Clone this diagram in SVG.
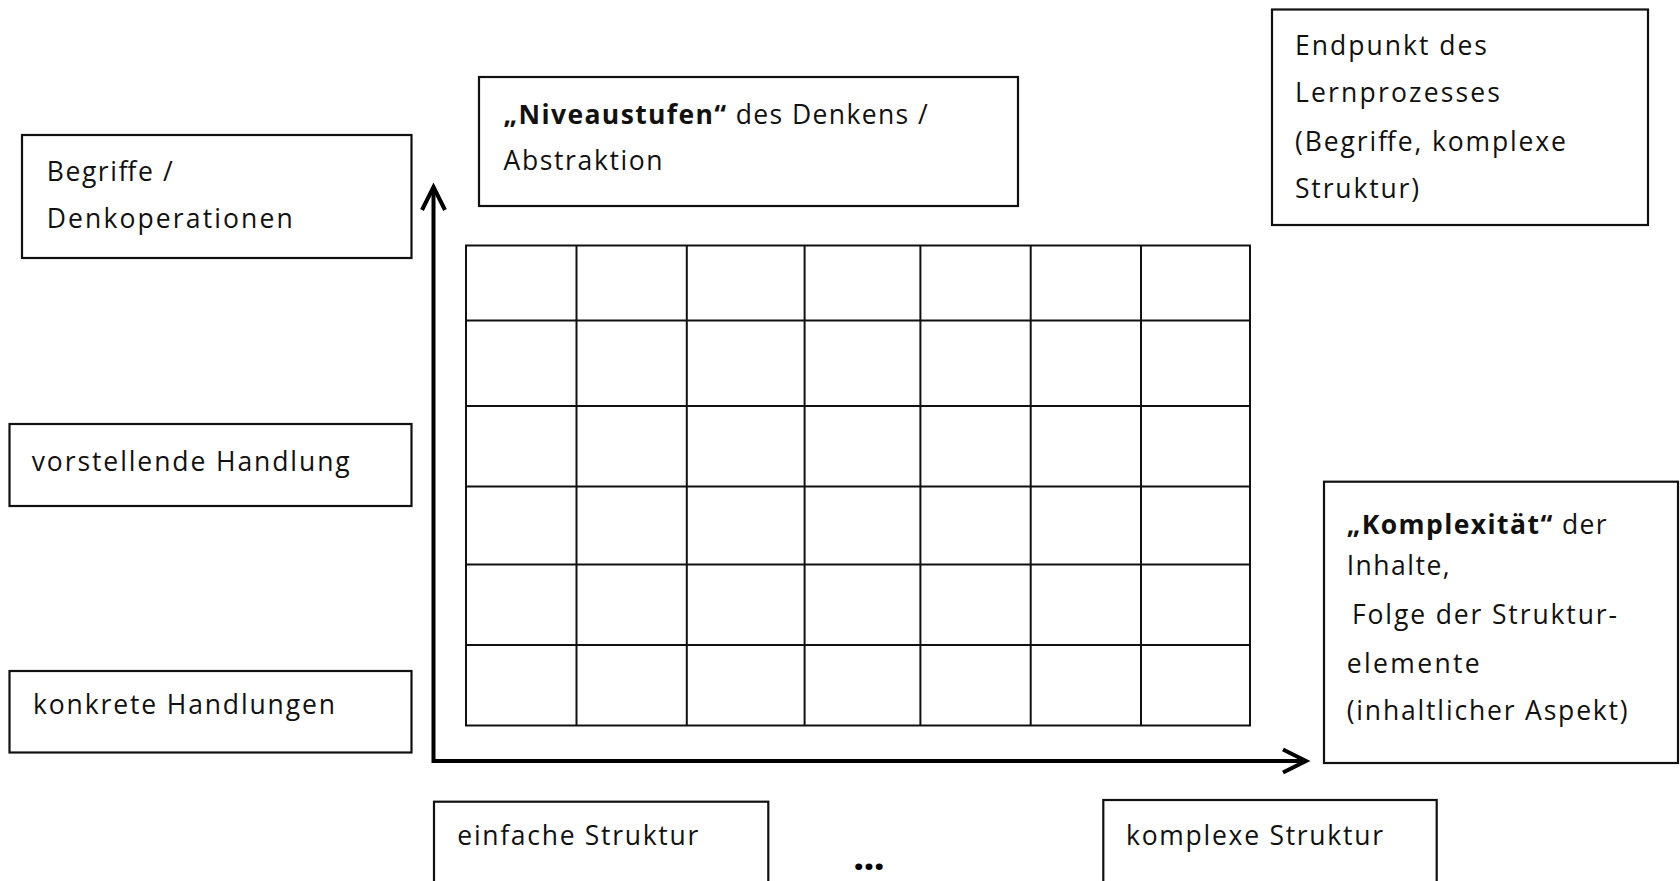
<svg xmlns="http://www.w3.org/2000/svg" width="1680" height="881" viewBox="0 0 1680 881">
<defs>
<style>
.box{fill:#fff;stroke:#111;stroke-width:2.2}
.t{font-family:"Open Sans",Lato,"Liberation Sans",sans-serif;font-size:26.5px;fill:#111}
.b{font-weight:bold}
.dots{font-family:"Open Sans",Lato,"Liberation Sans",sans-serif;font-size:40px;font-weight:bold;fill:#000}
.grid line{stroke:#111;stroke-width:2}
.axis{fill:none;stroke:#000;stroke-width:4}
</style>
<marker id="chev" viewBox="0 0 30 30" refX="25" refY="15" markerWidth="30" markerHeight="30" markerUnits="userSpaceOnUse" orient="auto-start-reverse">
<path d="M2,3.5 L25,15 L2,26.5" fill="none" stroke="#000" stroke-width="4"/>
</marker>
</defs>
<rect width="1680" height="881" fill="#fff"/>

<g id="grid" class="grid">
<rect x="466" y="245.5" width="784" height="480" fill="none" stroke="#111" stroke-width="2"/>
<line x1="576.5" y1="245.5" x2="576.5" y2="725.5"/>
<line x1="686.8" y1="245.5" x2="686.8" y2="725.5"/>
<line x1="804.6" y1="245.5" x2="804.6" y2="725.5"/>
<line x1="920.4" y1="245.5" x2="920.4" y2="725.5"/>
<line x1="1030.7" y1="245.5" x2="1030.7" y2="725.5"/>
<line x1="1141" y1="245.5" x2="1141" y2="725.5"/>
<line x1="466" y1="320.5" x2="1250" y2="320.5"/>
<line x1="466" y1="406" x2="1250" y2="406"/>
<line x1="466" y1="486.4" x2="1250" y2="486.4"/>
<line x1="466" y1="564.6" x2="1250" y2="564.6"/>
<line x1="466" y1="645" x2="1250" y2="645"/>
</g>

<g id="connectors">
<path class="axis" d="M433.5,187 L433.5,761 L1306,761" marker-start="url(#chev)" marker-end="url(#chev)"/>
</g>

<g id="node-begriffe">
<rect class="box" x="22" y="135" width="389.5" height="123"/>
<text class="t" x="46.7" y="181" textLength="126">Begriffe /</text>
<text class="t" x="46.7" y="228" textLength="246">Denkoperationen</text>
</g>

<g id="node-vorstellende">
<rect class="box" x="9.5" y="424" width="402" height="82"/>
<text class="t" x="31.7" y="471" textLength="318">vorstellende Handlung</text>
</g>

<g id="node-konkrete">
<rect class="box" x="9.5" y="671" width="402" height="81.5"/>
<text class="t" x="33" y="714" textLength="302">konkrete Handlungen</text>
</g>

<g id="node-niveau">
<rect class="box" x="479" y="77" width="539" height="129"/>
<text class="t" x="503.6" y="124" textLength="424"><tspan class="b">„Niveaustufen“</tspan> des Denkens /</text>
<text class="t" x="503.6" y="170" textLength="159">Abstraktion</text>
</g>

<g id="node-endpunkt">
<rect class="box" x="1272" y="9.5" width="376" height="215.5"/>
<text class="t" x="1295" y="55" textLength="192">Endpunkt des</text>
<text class="t" x="1295" y="101.7" textLength="205">Lernprozesses</text>
<text class="t" x="1295" y="151" textLength="271">(Begriffe, komplexe</text>
<text class="t" x="1295" y="198" textLength="124">Struktur)</text>
</g>

<g id="node-komplexitaet">
<rect class="box" x="1324" y="481.7" width="354" height="281.3"/>
<text class="t" x="1346.7" y="534" textLength="260"><tspan class="b">„Komplexität“</tspan> der</text>
<text class="t" x="1346.7" y="575" textLength="103">Inhalte,</text>
<text class="t" x="1352" y="624" textLength="265">Folge der Struktur-</text>
<text class="t" x="1346.7" y="673" textLength="133">elemente</text>
<text class="t" x="1346.7" y="720" textLength="281">(inhaltlicher Aspekt)</text>
</g>

<g id="node-einfache">
<rect class="box" x="434" y="801.7" width="334.3" height="100"/>
<text class="t" x="457.3" y="845" textLength="241">einfache Struktur</text>
</g>

<g id="node-komplexe">
<rect class="box" x="1103.3" y="800" width="333.4" height="100"/>
<text class="t" x="1126" y="845" textLength="257">komplexe Struktur</text>
</g>

<text class="dots" x="853" y="870" textLength="32">...</text>
</svg>
